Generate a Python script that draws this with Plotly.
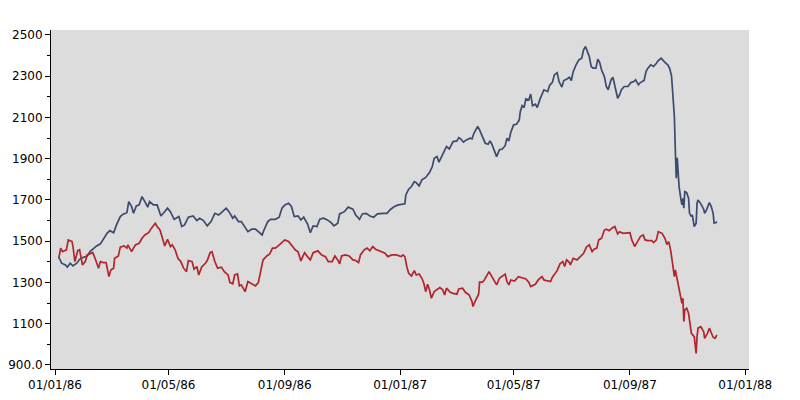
import plotly.graph_objects as go

# index levels
blue_dates = [
    "1986-01-05", "1986-01-08", "1986-01-12", "1986-01-14", "1986-01-17", "1986-01-20", "1986-01-24", "1986-01-27", "1986-01-31", "1986-02-04",
    "1986-02-07", "1986-02-11", "1986-02-14", "1986-02-18", "1986-02-21", "1986-02-25", "1986-02-28", "1986-03-04", "1986-03-07", "1986-03-11",
    "1986-03-14", "1986-03-18", "1986-03-20", "1986-03-23", "1986-03-25", "1986-03-28", "1986-03-31", "1986-04-03", "1986-04-06", "1986-04-09",
    "1986-04-11", "1986-04-15", "1986-04-19", "1986-04-23", "1986-04-26", "1986-04-30", "1986-05-03", "1986-05-07", "1986-05-12", "1986-05-15",
    "1986-05-18", "1986-05-22", "1986-05-27", "1986-05-31", "1986-06-03", "1986-06-07", "1986-06-11", "1986-06-15", "1986-06-19", "1986-06-23",
    "1986-06-26", "1986-07-01", "1986-07-04", "1986-07-08", "1986-07-10", "1986-07-14", "1986-07-17", "1986-07-21", "1986-07-24", "1986-07-28",
    "1986-08-01", "1986-08-04", "1986-08-08", "1986-08-10", "1986-08-14", "1986-08-17", "1986-08-22", "1986-08-26", "1986-08-29", "1986-09-01",
    "1986-09-05", "1986-09-08", "1986-09-11", "1986-09-15", "1986-09-18", "1986-09-21", "1986-09-25", "1986-09-28", "1986-10-01", "1986-10-05",
    "1986-10-08", "1986-10-12", "1986-10-16", "1986-10-20", "1986-10-23", "1986-10-27", "1986-10-29", "1986-11-03", "1986-11-07", "1986-11-12",
    "1986-11-15", "1986-11-19", "1986-11-22", "1986-11-26", "1986-11-30", "1986-12-04", "1986-12-08", "1986-12-14", "1986-12-18", "1986-12-22",
    "1986-12-26", "1986-12-30", "1987-01-03", "1987-01-06", "1987-01-07", "1987-01-10", "1987-01-13", "1987-01-16", "1987-01-18", "1987-01-21",
    "1987-01-24", "1987-01-28", "1987-02-01", "1987-02-04", "1987-02-06", "1987-02-09", "1987-02-11", "1987-02-14", "1987-02-17", "1987-02-19",
    "1987-02-22", "1987-02-24", "1987-02-26", "1987-03-02", "1987-03-04", "1987-03-06", "1987-03-09", "1987-03-12", "1987-03-16", "1987-03-18",
    "1987-03-20", "1987-03-24", "1987-03-26", "1987-03-29", "1987-04-01", "1987-04-04", "1987-04-06", "1987-04-08", "1987-04-11", "1987-04-13",
    "1987-04-16", "1987-04-19", "1987-04-22", "1987-04-24", "1987-04-26", "1987-04-28", "1987-05-01", "1987-05-04", "1987-05-07", "1987-05-08",
    "1987-05-10", "1987-05-12", "1987-05-14", "1987-05-17", "1987-05-19", "1987-05-21", "1987-05-24", "1987-05-26", "1987-05-29", "1987-05-31",
    "1987-06-02", "1987-06-06", "1987-06-08", "1987-06-11", "1987-06-13", "1987-06-16", "1987-06-18", "1987-06-21", "1987-06-23", "1987-06-26",
    "1987-06-29", "1987-07-01", "1987-07-03", "1987-07-06", "1987-07-09", "1987-07-12", "1987-07-14", "1987-07-16", "1987-07-18", "1987-07-20",
    "1987-07-22", "1987-07-24", "1987-07-27", "1987-07-29", "1987-07-31", "1987-08-02", "1987-08-05", "1987-08-07", "1987-08-09", "1987-08-12",
    "1987-08-14", "1987-08-16", "1987-08-19", "1987-08-21", "1987-08-23", "1987-08-26", "1987-08-30", "1987-09-02", "1987-09-05", "1987-09-07",
    "1987-09-10", "1987-09-12", "1987-09-16", "1987-09-18", "1987-09-20", "1987-09-23", "1987-09-26", "1987-09-29", "1987-10-01", "1987-10-04",
    "1987-10-06", "1987-10-08", "1987-10-11", "1987-10-13", "1987-10-15", "1987-10-17", "1987-10-18", "1987-10-19", "1987-10-20", "1987-10-21",
    "1987-10-22", "1987-10-23", "1987-10-25", "1987-10-26", "1987-10-27", "1987-10-28", "1987-10-29", "1987-10-31", "1987-11-02", "1987-11-03",
    "1987-11-05", "1987-11-06", "1987-11-08", "1987-11-10", "1987-11-11", "1987-11-12", "1987-11-15", "1987-11-18", "1987-11-19", "1987-11-21",
    "1987-11-24", "1987-11-26", "1987-11-28", "1987-11-29", "1987-12-01", "1987-12-02",
]
blue_values = [
    1422, 1393, 1385, 1374, 1393, 1380, 1393, 1412, 1422, 1428,
    1449, 1466, 1477, 1487, 1509, 1538, 1551, 1541, 1579, 1619,
    1631, 1638, 1692, 1668, 1635, 1671, 1676, 1716, 1692, 1665,
    1692, 1676, 1676, 1622, 1638, 1660, 1643, 1606, 1619, 1571,
    1579, 1616, 1622, 1600, 1611, 1600, 1574, 1595, 1635, 1627,
    1638, 1660, 1643, 1611, 1622, 1595, 1595, 1563, 1546, 1558,
    1558, 1546, 1530, 1554, 1595, 1606, 1606, 1616, 1660, 1676,
    1684, 1668, 1619, 1622, 1603, 1616, 1584, 1541, 1574, 1571,
    1606, 1611, 1603, 1590, 1574, 1587, 1632, 1643, 1665, 1655,
    1627, 1606, 1632, 1635, 1622, 1616, 1632, 1635, 1635, 1655,
    1668, 1676, 1681, 1681, 1724, 1752, 1765, 1789, 1784, 1768,
    1797, 1809, 1833, 1862, 1902, 1910, 1883, 1910, 1938, 1959,
    1947, 1967, 1983, 1986, 2002, 1996, 1980, 1991, 1999, 1996,
    2023, 2056, 2040, 2007, 1975, 1970, 1986, 1970, 1931, 1910,
    1943, 1947, 1963, 1999, 1986, 2028, 2064, 2067, 2088, 2128,
    2157, 2148, 2190, 2185, 2213, 2157, 2164, 2148, 2190, 2217,
    2234, 2225, 2255, 2270, 2306, 2317, 2274, 2247, 2279, 2285,
    2295, 2279, 2322, 2355, 2379, 2387, 2428, 2444, 2419, 2395,
    2347, 2339, 2339, 2383, 2366, 2330, 2298, 2250, 2234, 2282,
    2295, 2250, 2193, 2209, 2234, 2250, 2250, 2269, 2274, 2282,
    2258, 2269, 2279, 2322, 2339, 2355, 2347, 2363, 2376, 2387,
    2376, 2367, 2355, 2338, 2301, 2193, 2104, 1942, 1805, 1904,
    1807, 1763, 1700, 1676, 1708, 1660, 1740, 1735, 1708, 1635,
    1619, 1627, 1571, 1587, 1684, 1700, 1681, 1655, 1635, 1652,
    1687, 1668, 1635, 1587, 1590, 1595,
]

red_dates = [
    "1986-01-05", "1986-01-07", "1986-01-09", "1986-01-13", "1986-01-15", "1986-01-19", "1986-01-20", "1986-01-22", "1986-01-25", "1986-01-27",
    "1986-01-30", "1986-02-02", "1986-02-04", "1986-02-08", "1986-02-10", "1986-02-13", "1986-02-16", "1986-02-18", "1986-02-21", "1986-02-24",
    "1986-02-27", "1986-03-01", "1986-03-04", "1986-03-05", "1986-03-09", "1986-03-11", "1986-03-15", "1986-03-18", "1986-03-19", "1986-03-23",
    "1986-03-27", "1986-03-31", "1986-04-03", "1986-04-06", "1986-04-10", "1986-04-13", "1986-04-17", "1986-04-19", "1986-04-22", "1986-04-25",
    "1986-04-27", "1986-04-30", "1986-05-03", "1986-05-05", "1986-05-08", "1986-05-11", "1986-05-14", "1986-05-17", "1986-05-20", "1986-05-22",
    "1986-05-26", "1986-05-28", "1986-05-31", "1986-06-02", "1986-06-05", "1986-06-09", "1986-06-11", "1986-06-14", "1986-06-16", "1986-06-19",
    "1986-06-22", "1986-06-26", "1986-06-29", "1986-07-03", "1986-07-05", "1986-07-08", "1986-07-10", "1986-07-13", "1986-07-15", "1986-07-17",
    "1986-07-21", "1986-07-24", "1986-07-27", "1986-08-01", "1986-08-04", "1986-08-07", "1986-08-09", "1986-08-13", "1986-08-16", "1986-08-19",
    "1986-08-22", "1986-08-25", "1986-08-28", "1986-09-01", "1986-09-05", "1986-09-08", "1986-09-12", "1986-09-15", "1986-09-18", "1986-09-20",
    "1986-09-22", "1986-09-25", "1986-09-28", "1986-10-01", "1986-10-06", "1986-10-10", "1986-10-14", "1986-10-17", "1986-10-21", "1986-10-24",
    "1986-10-27", "1986-10-29", "1986-10-31", "1986-11-04", "1986-11-08", "1986-11-12", "1986-11-15", "1986-11-18", "1986-11-20", "1986-11-24",
    "1986-11-27", "1986-11-30", "1986-12-03", "1986-12-06", "1986-12-11", "1986-12-16", "1986-12-19", "1986-12-23", "1986-12-28", "1987-01-02",
    "1987-01-04", "1987-01-06", "1987-01-08", "1987-01-10", "1987-01-13", "1987-01-16", "1987-01-18", "1987-01-21", "1987-01-24", "1987-01-26",
    "1987-01-28", "1987-01-30", "1987-02-01", "1987-02-03", "1987-02-06", "1987-02-10", "1987-02-12", "1987-02-15", "1987-02-17", "1987-02-19",
    "1987-02-23", "1987-02-26", "1987-03-02", "1987-03-04", "1987-03-08", "1987-03-11", "1987-03-15", "1987-03-18", "1987-03-19", "1987-03-22",
    "1987-03-25", "1987-03-26", "1987-03-29", "1987-03-31", "1987-04-03", "1987-04-05", "1987-04-08", "1987-04-11", "1987-04-13", "1987-04-16",
    "1987-04-19", "1987-04-22", "1987-04-24", "1987-04-26", "1987-04-28", "1987-05-02", "1987-05-06", "1987-05-10", "1987-05-14", "1987-05-17",
    "1987-05-19", "1987-05-24", "1987-05-27", "1987-05-31", "1987-06-02", "1987-06-06", "1987-06-09", "1987-06-11", "1987-06-14", "1987-06-16",
    "1987-06-19", "1987-06-22", "1987-06-24", "1987-06-26", "1987-06-29", "1987-06-30", "1987-07-03", "1987-07-07", "1987-07-10", "1987-07-14",
    "1987-07-17", "1987-07-20", "1987-07-23", "1987-07-25", "1987-07-28", "1987-07-30", "1987-08-02", "1987-08-05", "1987-08-07", "1987-08-10",
    "1987-08-13", "1987-08-16", "1987-08-19", "1987-08-21", "1987-08-25", "1987-08-29", "1987-09-01", "1987-09-03", "1987-09-06", "1987-09-09",
    "1987-09-12", "1987-09-15", "1987-09-17", "1987-09-20", "1987-09-24", "1987-09-26", "1987-09-29", "1987-10-01", "1987-10-05", "1987-10-08",
    "1987-10-10", "1987-10-12", "1987-10-14", "1987-10-16", "1987-10-18", "1987-10-19", "1987-10-21", "1987-10-22", "1987-10-24", "1987-10-26",
    "1987-10-27", "1987-10-28", "1987-10-29", "1987-10-31", "1987-11-02", "1987-11-04", "1987-11-05", "1987-11-08", "1987-11-10", "1987-11-11",
    "1987-11-12", "1987-11-15", "1987-11-18", "1987-11-19", "1987-11-22", "1987-11-24", "1987-11-26", "1987-11-28", "1987-11-30", "1987-12-02",
]
red_values = [
    1417, 1466, 1449, 1458, 1506, 1498, 1474, 1401, 1454, 1458,
    1385, 1401, 1433, 1438, 1444, 1409, 1369, 1401, 1396, 1396,
    1328, 1360, 1369, 1417, 1428, 1471, 1477, 1466, 1482, 1449,
    1482, 1490, 1514, 1530, 1541, 1563, 1587, 1571, 1554, 1509,
    1477, 1509, 1474, 1482, 1458, 1417, 1401, 1369, 1352, 1406,
    1401, 1364, 1377, 1336, 1374, 1393, 1406, 1444, 1449, 1401,
    1369, 1374, 1352, 1336, 1299, 1293, 1336, 1341, 1283, 1288,
    1255, 1304, 1296, 1283, 1299, 1361, 1409, 1428, 1438, 1466,
    1466, 1477, 1490, 1506, 1498, 1482, 1458, 1449, 1404, 1425,
    1444, 1425, 1409, 1444, 1453, 1433, 1425, 1401, 1401, 1428,
    1409, 1390, 1428, 1433, 1428, 1409, 1406, 1396, 1433, 1458,
    1466, 1454, 1474, 1461, 1449, 1441, 1425, 1433, 1433, 1425,
    1433, 1425, 1377, 1344, 1331, 1357, 1336, 1341, 1320, 1296,
    1255, 1291, 1264, 1223, 1255, 1268, 1275, 1264, 1239, 1272,
    1252, 1247, 1243, 1268, 1272, 1252, 1239, 1207, 1183, 1215,
    1243, 1301, 1301, 1312, 1340, 1352, 1328, 1301, 1288, 1320,
    1328, 1340, 1304, 1288, 1312, 1307, 1328, 1323, 1317, 1301,
    1280, 1291, 1312, 1328, 1312, 1307, 1304, 1325, 1345, 1357,
    1390, 1401, 1377, 1409, 1396, 1385, 1417, 1409, 1422, 1441,
    1471, 1482, 1449, 1461, 1466, 1506, 1514, 1554, 1558, 1551,
    1563, 1571, 1535, 1546, 1538, 1541, 1541, 1506, 1474, 1498,
    1522, 1530, 1506, 1503, 1503, 1493, 1506, 1546, 1538, 1514,
    1484, 1498, 1458, 1393, 1328, 1361, 1312, 1280, 1231, 1199,
    1223, 1110, 1167, 1175, 1150, 1094, 1053, 1037, 956, 1037,
    1078, 1085, 1061, 1029, 1053, 1078, 1056, 1034, 1029, 1045,
]

x_ticks = ["1986-01-01", "1986-05-01", "1986-09-01", "1987-01-01",
           "1987-05-01", "1987-09-01", "1988-01-01"]
y_ticks = [900, 1100, 1300, 1500, 1700, 1900, 2100, 2300, 2500]
y_tick_labels = ["900.0", "1100", "1300", "1500", "1700", "1900", "2100", "2300", "2500"]

fig = go.Figure()
fig.add_trace(go.Scatter(x=blue_dates, y=blue_values, mode='lines',
                         line=dict(color='#3b4a6d', width=1.7), hoverinfo='skip'))
fig.add_trace(go.Scatter(x=red_dates, y=red_values, mode='lines',
                         line=dict(color='#b1252b', width=1.7), hoverinfo='skip'))

font = dict(family='DejaVu Sans', size=12, color='black')
fig.update_layout(
    width=800, height=400,
    margin=dict(l=51, r=51, t=30, b=31, autoexpand=False),
    paper_bgcolor='white', plot_bgcolor='#dcdcdc',
    showlegend=False, font=font,
)
fig.update_xaxes(
    type='date', range=['1985-12-27 18:00', '1988-01-04 22:00'],
    tickmode='array', tickvals=x_ticks, tickformat='%d/%m/%y',
    showgrid=False, zeroline=False, showline=True, linecolor='black', linewidth=1,
    ticks='outside', ticklen=5, tickcolor='black', tickfont=font, automargin=False,
)
fig.update_yaxes(
    range=[880, 2524],
    tickmode='array', tickvals=y_ticks, ticktext=y_tick_labels,
    showgrid=False, zeroline=False, showline=True, linecolor='black', linewidth=1,
    ticks='outside', ticklen=5, tickcolor='black', tickfont=font, automargin=False,
    minor=dict(ticks='outside', ticklen=3, tickcolor='black', tick0=900, dtick=100, showgrid=False),
)

# drop the page's default body margin so the figure sits at the window origin
fig.write_html("out.html", config={'displayModeBar': False},
               post_script="document.body.style.margin = '0';")
